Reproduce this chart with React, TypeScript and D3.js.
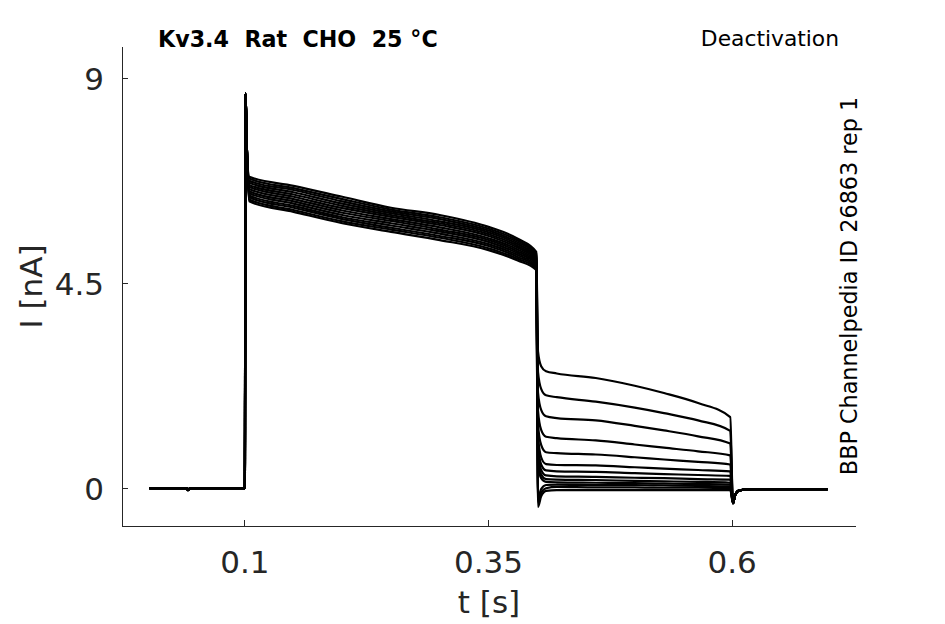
import * as d3 from 'd3'

// Recording: Kv3.4 deactivation protocol, 13 sweeps (nA vs s)
const preTimes = [0.002, 0.04, 0.0417, 0.044, 0.0995]
const preCurrents = [0, 0, -0.04, 0, 0]

const spikeTimes = [0.1, 0.1008, 0.1022]
const spikeCurrents = [0, 8.67, 7.4]

const pulseTimes = [0.1045, 0.15, 0.2, 0.25, 0.3, 0.35, 0.38, 0.399]
const pulseCurrents = [
  [6.84, 6.64, 6.4, 6.16, 6.0, 5.74, 5.48, 5.19],
  [6.8, 6.59, 6.35, 6.12, 5.95, 5.7, 5.44, 5.15],
  [6.75, 6.55, 6.3, 6.08, 5.91, 5.66, 5.4, 5.12],
  [6.71, 6.5, 6.25, 6.04, 5.86, 5.62, 5.36, 5.08],
  [6.66, 6.45, 6.2, 6.0, 5.82, 5.58, 5.32, 5.05],
  [6.62, 6.4, 6.15, 5.96, 5.78, 5.54, 5.28, 5.02],
  [6.57, 6.35, 6.1, 5.91, 5.73, 5.49, 5.24, 4.99],
  [6.52, 6.3, 6.05, 5.87, 5.68, 5.45, 5.2, 4.96],
  [6.48, 6.25, 6.0, 5.82, 5.64, 5.41, 5.16, 4.93],
  [6.43, 6.2, 5.95, 5.77, 5.59, 5.36, 5.12, 4.89],
  [6.39, 6.16, 5.91, 5.72, 5.54, 5.32, 5.08, 4.86],
  [6.34, 6.11, 5.86, 5.68, 5.5, 5.27, 5.04, 4.83],
  [6.3, 6.07, 5.82, 5.63, 5.45, 5.23, 5.0, 4.79],
]

const tailTimes = [0.4008, 0.404, 0.409, 0.42, 0.46, 0.5, 0.53, 0.565, 0.598]
const tailCurrents = [
  [3.0, 2.68, 2.57, 2.52, 2.42, 2.25, 2.09, 1.87, 1.56],
  [2.55, 2.18, 2.04, 2.0, 1.9, 1.77, 1.65, 1.49, 1.26],
  [2.1, 1.72, 1.58, 1.54, 1.49, 1.37, 1.27, 1.14, 0.98],
  [1.7, 1.28, 1.13, 1.1, 1.05, 0.96, 0.89, 0.81, 0.72],
  [1.4, 0.95, 0.79, 0.77, 0.74, 0.68, 0.63, 0.58, 0.52],
  [1.15, 0.68, 0.53, 0.51, 0.5, 0.46, 0.43, 0.4, 0.37],
  [0.95, 0.52, 0.39, 0.37, 0.36, 0.33, 0.31, 0.29, 0.27],
  [0.8, 0.4, 0.28, 0.26, 0.25, 0.23, 0.22, 0.2, 0.19],
  [0.65, 0.3, 0.2, 0.19, 0.18, 0.16, 0.15, 0.14, 0.12],
  [0.5, 0.22, 0.14, 0.13, 0.12, 0.11, 0.1, 0.09, 0.08],
  [-0.2, -0.02, 0.07, 0.08, 0.07, 0.07, 0.06, 0.05, 0.04],
  [-0.3, -0.1, 0.0, 0.03, 0.02, 0.02, 0.01, 0.01, 0.0],
  [-0.41, -0.18, -0.06, -0.04, -0.04, -0.04, -0.04, -0.04, -0.04],
]

const postTimes = [0.6008, 0.603, 0.607, 0.62, 0.698]
const postCurrents = [-0.33, -0.15, -0.05, -0.02, -0.02]

const xTicks = [0.1, 0.35, 0.6]
const xTickLabels = ['0.1', '0.35', '0.6']
const yTicks = [0, 4.5, 9]
const yTickLabels = ['0', '4.5', '9']

const width = 945
const height = 624
const left = 122
const right = 856
const top = 47
const bottom = 526
const font = 'DejaVu Sans, sans-serif'
const axisColor = '#262626'

export default function App() {
  const x = d3.scaleLinear([-0.026, 0.727], [left, right])
  const y = d3.scaleLinear([-0.83, 9.69], [bottom, top])

  const line = d3
    .line<[number, number]>()
    .x((d) => x(d[0]))
    .y((d) => y(d[1]))
    .curve(d3.curveMonotoneX)

  const zip = (ts: number[], vs: number[]) => ts.map((t, i) => [t, vs[i]] as [number, number])

  const traces = pulseCurrents.map((pulse, i) => [
    ...zip(preTimes, preCurrents),
    ...zip(spikeTimes, spikeCurrents),
    ...zip(pulseTimes, pulse),
    ...zip(tailTimes, tailCurrents[i]),
    ...zip(postTimes, postCurrents),
  ])

  return (
    <svg
      width={width}
      height={height}
      style={{ position: 'absolute', left: 0, top: 0, background: '#fff' }}
      fontFamily={font}
    >
      {/* traces */}
      <g fill="none" stroke="#000" strokeWidth={2.2} strokeLinejoin="round">
        {traces.map((pts, i) => (
          <path key={i} d={line(pts) ?? ''} />
        ))}
      </g>

      {/* axes */}
      <g stroke={axisColor} strokeWidth={1} shapeRendering="crispEdges">
        <line x1={left} x2={left} y1={top} y2={bottom} />
        <line x1={left} x2={right} y1={bottom} y2={bottom} />
        {xTicks.map((t) => (
          <line key={t} x1={x(t)} x2={x(t)} y1={bottom} y2={bottom - 6} />
        ))}
        {yTicks.map((t) => (
          <line key={t} x1={left} x2={left + 6} y1={y(t)} y2={y(t)} />
        ))}
      </g>
      <g fill={axisColor} fontSize={31}>
        {xTicks.map((t, i) => (
          <text key={t} x={x(t)} y={573} textAnchor="middle">
            {xTickLabels[i]}
          </text>
        ))}
        {yTicks.map((t, i) => (
          <text key={t} x={104} y={y(t) + 12} textAnchor="end">
            {yTickLabels[i]}
          </text>
        ))}
        <text x={(left + right) / 2} y={613} textAnchor="middle">
          t [s]
        </text>
        <text transform={`translate(42,${(top + bottom) / 2}) rotate(-90)`} textAnchor="middle">
          I [nA]
        </text>
      </g>

      {/* annotations */}
      <text x={158} y={47} fontSize={22.2} fontWeight="bold" fill="#000" style={{ whiteSpace: 'pre' }}>
        {'Kv3.4  Rat  CHO  25 °C'}
      </text>
      <text x={839} y={46} fontSize={21.8} fill="#000" textAnchor="end">
        Deactivation
      </text>
      <text transform="translate(857,286) rotate(-90)" fontSize={22.3} fill="#000" textAnchor="middle">
        BBP Channelpedia ID 26863 rep 1
      </text>
    </svg>
  )
}
